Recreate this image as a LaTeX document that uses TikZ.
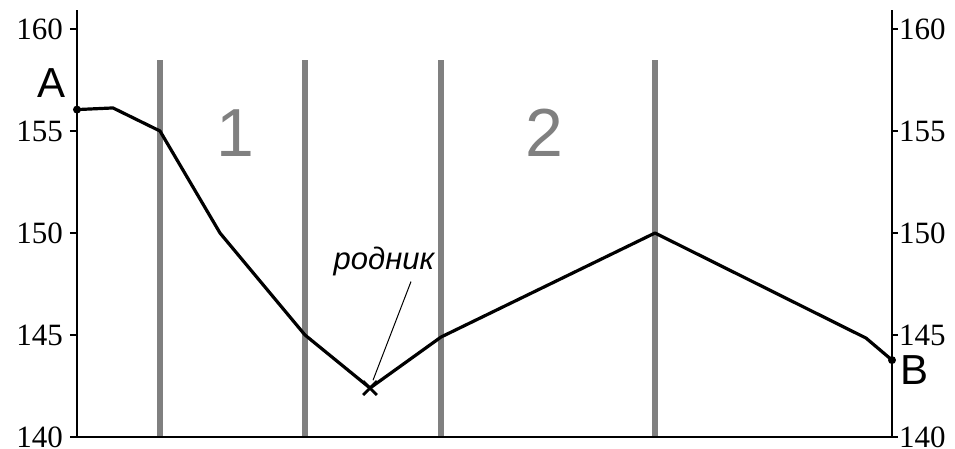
\documentclass[tikz,border=0pt]{standalone}
\usepackage{fontspec}
\setmainfont{Liberation Serif}
\newfontfamily\labfont{Liberation Sans}
\usetikzlibrary{shapes.misc}
\definecolor{zonegray}{HTML}{808080}
\tikzset{
  zone/.style={zonegray, line width=5.5pt},
  zonenum/.style={text=zonegray, inner sep=0pt, anchor=base, font=\labfont\fontsize{68}{68}\selectfont},
  ticklab/.style={inner sep=0pt, font=\fontsize{31}{31}\selectfont},
  pointlab/.style={inner sep=0pt, font=\labfont\fontsize{42}{42}\selectfont},
  profile/.style={line width=3.2pt, line join=round}
}
\begin{document}
\begin{tikzpicture}[x=1pt,y=20.4pt]
\useasboundingbox (-77,-0.539) rectangle (878,21.422);
% zone boundaries
\foreach \x in {83,228,364,578} \draw[zone] (\x,0)--(\x,18.5);
% axes
\draw[line width=2.2pt] (0,20.93)--(0,0)--(815,0)--(815,20.93);
\foreach \e/\v in {0/140,5/145,10/150,15/155,20/160}{
  \draw[line width=1.5pt] (-7,\e)--(0,\e);
  \draw[line width=1.5pt] (815,\e)--(821,\e);
  \node[ticklab, anchor=east] (l\v) at (-14,\e) {\v};
  \node[ticklab, anchor=west] (r\v) at (822,\e) {\v};
}
% profile
\coordinate (A) at (0,16.05);
\coordinate (B) at (815,3.77);
\node[cross out, draw, minimum size=11pt, line width=2.8pt, inner sep=0pt] (spring) at (293,2.4) {};
\draw[profile] (A)--(36,16.13)--(83,15)--(143,10)--(228,5)--(spring.center)--(364,4.9)--(578,10)--(789,4.85)--(B);
\fill (A) circle (4pt);
\fill (B) circle (4pt);
\node[pointlab] (labA) at (-25,17.33) {A};
\node[pointlab] (labB) at (837.5,3.26) {B};
\node[zonenum] (one) at (158.5,13.73) {1};
\node[zonenum] (two) at (467,13.73) {2};
\node[inner sep=0pt, anchor=base, font=\labfont\itshape\fontsize{31}{31}\selectfont] (springlab) at (307,8.19) {родник};
\draw[line width=1pt, shorten >=1pt] ([xshift=27pt,yshift=-5pt]springlab.south) -- (spring);
\end{tikzpicture}
\end{document}
